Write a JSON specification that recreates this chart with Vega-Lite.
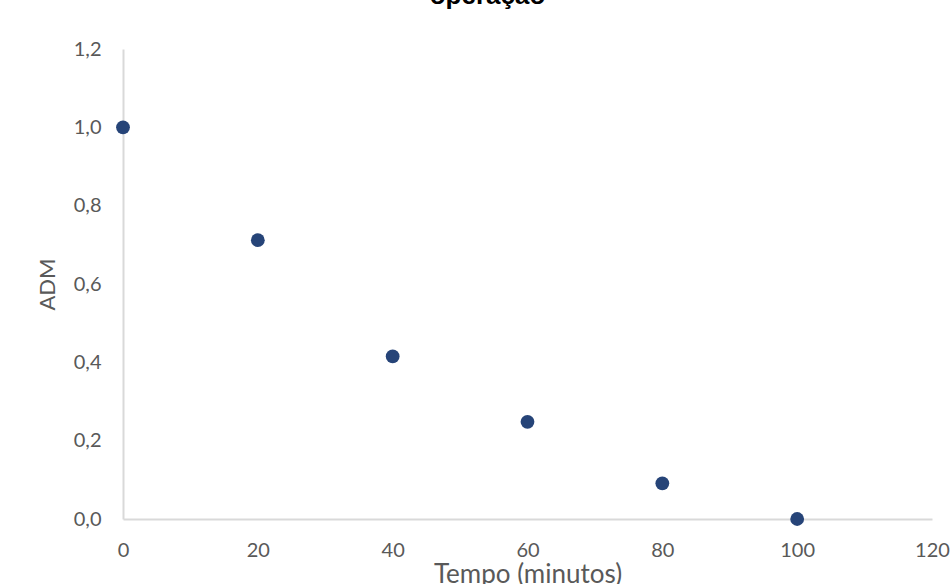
{
  "$schema": "https://vega.github.io/schema/vega-lite/v6.json",
  "autosize": "none",
  "width": 809,
  "height": 470,
  "padding": {"left": 123, "top": 49, "right": 18, "bottom": 65},
  "background": "white",
  "title": {
    "text": "operação",
    "font": "Liberation Sans",
    "fontSize": 26,
    "fontWeight": "bold",
    "color": "#000000",
    "anchor": "middle",
    "baseline": "alphabetic",
    "offset": 0,
    "dx": -40,
    "dy": -9
  },
  "data": {
    "values": [
      {"tempo": 0, "adm": 1.0},
      {"tempo": 20, "adm": 0.712},
      {"tempo": 40, "adm": 0.415},
      {"tempo": 60, "adm": 0.248},
      {"tempo": 80, "adm": 0.091},
      {"tempo": 100, "adm": 0.0}
    ]
  },
  "mark": {"type": "point", "filled": true, "shape": "circle", "size": 190, "color": "#264478", "opacity": 1},
  "encoding": {
    "x": {
      "field": "tempo",
      "type": "quantitative",
      "scale": {"domain": [0, 120], "nice": false, "zero": false},
      "axis": {
        "title": "Tempo (minutos)",
        "values": [0, 20, 40, 60, 80, 100, 120],
        "grid": false,
        "ticks": false,
        "domainColor": "#d9d9d9",
        "domainWidth": 2,
        "labelFont": "Lato",
        "labelFontSize": 20,
        "labelColor": "#595959",
        "labelPadding": 21,
        "labelFlush": false,
        "titleFont": "Lato",
        "titleFontSize": 26,
        "titleFontWeight": "normal",
        "titleColor": "#595959",
        "titlePadding": 1
      }
    },
    "y": {
      "field": "adm",
      "type": "quantitative",
      "scale": {"domain": [0, 1.2], "nice": false},
      "axis": {
        "title": "ADM",
        "values": [0, 0.2, 0.4, 0.6, 0.8, 1.0, 1.2],
        "labelExpr": "replace(format(datum.value, '.1f'), '.', ',')",
        "grid": false,
        "ticks": false,
        "domainColor": "#d9d9d9",
        "domainWidth": 2,
        "labelFont": "Lato",
        "labelFontSize": 20,
        "labelColor": "#595959",
        "labelPadding": 22,
        "labelFlush": false,
        "titleFont": "Lato",
        "titleFontSize": 22,
        "titleFontWeight": "normal",
        "titleColor": "#595959",
        "titlePadding": 14
      }
    }
  },
  "config": {"view": {"stroke": null}}
}
